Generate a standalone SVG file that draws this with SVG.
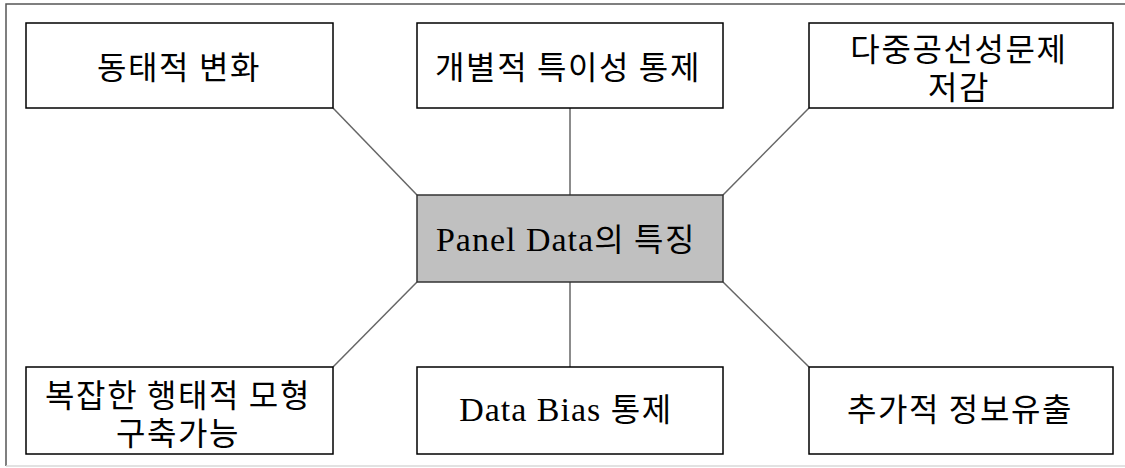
<svg xmlns="http://www.w3.org/2000/svg" width="1125" height="468" viewBox="0 0 1125 468">
<style>
.box{fill:#ffffff;stroke:#000000;stroke-width:1.5}
.center{fill:#c0c0c0;stroke:#333333;stroke-width:1.5}
.kr{font-family:"Noto Sans CJK KR","Noto Sans",sans-serif;font-size:32px;letter-spacing:1.6px;fill:#000;text-anchor:middle}
.mix{font-family:"Liberation Serif","Noto Sans CJK KR",serif;font-size:34px;fill:#000;text-anchor:middle}
.kp{font-family:"Noto Sans CJK KR",sans-serif;font-size:32px;letter-spacing:1.6px}
.link{stroke:#666666;stroke-width:1.5;fill:none}
</style>
<rect x="0" y="0" width="1125" height="468" fill="#ffffff"/>
<g id="frame">
<path d="M6 466 V4 H1125" fill="none" stroke="#555555" stroke-width="1.5"/>
<path d="M6 466 H1125" fill="none" stroke="#d9d9d9" stroke-width="1.5"/>
</g>
<g id="connectors">
<line class="link" x1="333" y1="108" x2="417" y2="195"/>
<line class="link" x1="570" y1="108" x2="570" y2="195"/>
<line class="link" x1="809" y1="108" x2="723" y2="195"/>
<line class="link" x1="333" y1="367" x2="417" y2="282"/>
<line class="link" x1="570" y1="282" x2="570" y2="367"/>
<line class="link" x1="723" y1="282" x2="809" y2="367"/>
</g>
<g id="node-center">
<rect class="center" x="417" y="195" width="306" height="87"/>
<text class="mix" x="566" y="251"><tspan letter-spacing="1">Panel Data</tspan><tspan class="kp">의 특징</tspan></text>
</g>
<g id="node-dynamic">
<rect class="box" x="26" y="23" width="307" height="85"/>
<text class="kr" x="179" y="79">동태적 변화</text>
</g>
<g id="node-individual">
<rect class="box" x="417" y="23" width="306" height="85"/>
<text class="kr" x="568" y="79">개별적 특이성 통제</text>
</g>
<g id="node-multicollinearity">
<rect class="box" x="809" y="23" width="304" height="85"/>
<text class="kr"><tspan x="959" y="61">다중공선성문제</tspan><tspan x="959" y="99">저감</tspan></text>
</g>
<g id="node-complex">
<rect class="box" x="26" y="367" width="307" height="87"/>
<text class="kr"><tspan x="178" y="407">복잡한 행태적 모형</tspan><tspan x="178" y="445">구축가능</tspan></text>
</g>
<g id="node-bias">
<rect class="box" x="417" y="367" width="306" height="87"/>
<text class="mix" x="566" y="421"><tspan letter-spacing="1">Data Bias </tspan><tspan class="kp">통제</tspan></text>
</g>
<g id="node-info">
<rect class="box" x="809" y="367" width="304" height="87"/>
<text class="kr" x="960" y="421">추가적 정보유출</text>
</g>
</svg>
